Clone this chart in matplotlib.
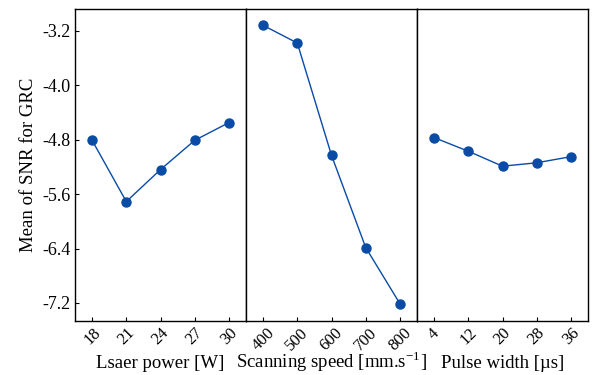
import numpy as np
import matplotlib
matplotlib.use("Agg")
import matplotlib.pyplot as plt

plt.rcParams["font.family"] = ["Liberation Serif", "DejaVu Serif"]
plt.rcParams["mathtext.fontset"] = "stix"

power_levels = ["18", "21", "24", "27", "30"]
power_snr = [-4.81, -5.71, -5.24, -4.81, -4.55]

speed_levels = ["400", "500", "600", "700", "800"]
speed_snr = [-3.12, -3.38, -5.03, -6.385, -7.21]

pulse_levels = ["4", "12", "20", "28", "36"]
pulse_snr = [-4.77, -4.97, -5.19, -5.14, -5.05]

xlabels = ["Lsaer power [W]", r"Scanning speed [mm.s$^{\mathregular{-1}}$]", "Pulse width [µs]"]
yticks = [-3.2, -4.0, -4.8, -5.6, -6.4, -7.2]

fig = plt.figure(figsize=(5.93, 3.75), dpi=100)
left, width, bottom, height = 75 / 593, 171 / 593, 1 - 321 / 375, 312 / 375

color = "#0a4ba6"
groups = [(power_levels, power_snr), (speed_levels, speed_snr), (pulse_levels, pulse_snr)]
for i, (levels, vals) in enumerate(groups):
    ax = fig.add_axes([left + i * width, bottom, width, height])
    x = np.arange(len(levels))
    ax.plot(x, vals, color=color, lw=1.0, marker="o", ms=6.5)
    ax.set_xlim(-0.5, len(levels) - 0.5)
    ax.set_ylim(-7.465, -2.88)
    ax.set_xticks(x)
    ax.set_xticklabels(levels, rotation=45, fontsize=12)
    ax.tick_params(direction="in", length=3, width=0.8, pad=3)
    if i == 0:
        ax.set_yticks(yticks)
        ax.set_yticklabels([f"{v:.1f}" for v in yticks], fontsize=13)
        ax.set_ylabel("Mean of SNR for GRC", fontsize=13.5)
    else:
        ax.set_yticks([])
    for s in ax.spines.values():
        s.set_linewidth(1.0)
    # fixed baseline so all three labels line up
    fig.text(left + (i + 0.5) * width, 1 - 368 / 375, xlabels[i],
             ha="center", va="baseline", fontsize=13.5)

fig.savefig("out.png", dpi=100)
